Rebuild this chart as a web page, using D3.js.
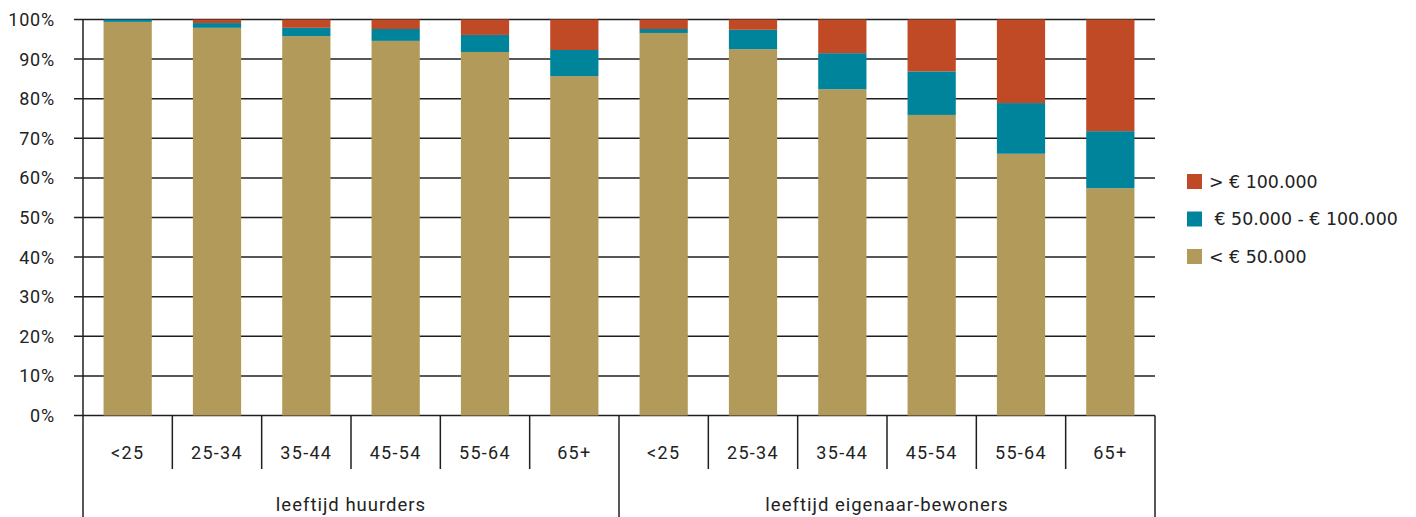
<!DOCTYPE html>
<html>
<head>
<meta charset="utf-8">
<script src="https://cdn.jsdelivr.net/npm/d3@7"></script>
<style>
  html, body { margin: 0; padding: 0; background: #fff; }
  svg { display: block; }
</style>
</head>
<body>
<svg id="chart" width="1416" height="517"></svg>
<script>
// Age brackets, repeated for each tenure group
const ageGroups = ["<25", "25-34", "35-44", "45-54", "55-64", "65+"];
const tenures = ["leeftijd huurders", "leeftijd eigenaar-bewoners"];

// Share of households (%) per wealth class, renters first then owner-occupiers
const below50k   = [99.4, 97.9, 95.8, 94.6, 91.8, 85.7, 96.6, 92.5, 82.4, 75.9, 66.1, 57.4];
const mid50to100k = [0.6, 1.2, 2.1, 3.0, 4.3, 6.6, 1.0, 4.9, 9.1, 11.0, 12.8, 14.4];
const above100k  = [0.0, 0.9, 2.1, 2.4, 3.9, 7.7, 2.4, 2.6, 8.5, 13.1, 21.1, 28.2];

const seriesKeys = ["low", "mid", "high"];
const seriesLabels = ["< € 50.000", " € 50.000 - € 100.000", "> € 100.000"];
const seriesColors = ["#B29A5B", "#00849C", "#C04A26"];

const yTicks = [0, 10, 20, 30, 40, 50, 60, 70, 80, 90, 100];

// Rows for the stack
const rows = [];
tenures.forEach((t, ti) => {
  ageGroups.forEach((a, ai) => {
    const i = ti * ageGroups.length + ai;
    rows.push({ id: ti + "|" + a, age: a, tenure: t, low: below50k[i], mid: mid50to100k[i], high: above100k[i] });
  });
});

const svg = d3.select("#chart");
const plotLeft = 83, plotRight = 1155, plotTop = 19.5, plotBase = 415.5;

const x = d3.scaleBand()
  .domain(rows.map(d => d.id))
  .range([plotLeft, plotRight])
  .paddingInner(0.46)
  .paddingOuter(0.23);

const y = d3.scaleLinear().domain([0, 100]).range([plotBase, plotTop]);

const axisFont = "Roboto, 'DejaVu Sans', sans-serif";

// Horizontal gridlines with left ticks
const grid = svg.append("g");
grid.selectAll("line")
  .data(yTicks)
  .join("line")
  .attr("x1", plotLeft - 9)
  .attr("x2", plotRight)
  .attr("y1", d => y(d))
  .attr("y2", d => y(d))
  .attr("stroke", "#1f1f1f")
  .attr("stroke-width", 1.5);

grid.selectAll("text")
  .data(yTicks)
  .join("text")
  .attr("x", 55)
  .attr("y", d => y(d))
  .attr("dy", "0.36em")
  .attr("text-anchor", "end")
  .attr("font-family", axisFont)
  .attr("font-size", 18)
  .attr("letter-spacing", 0.8)
  .attr("fill", "#222")
  .text(d => d + "%");

// Stacked bars
const stack = d3.stack().keys(seriesKeys)(rows);
svg.append("g")
  .selectAll("g")
  .data(stack)
  .join("g")
  .attr("fill", (d, i) => seriesColors[i])
  .selectAll("rect")
  .data(d => d)
  .join("rect")
  .attr("x", d => x(d.data.id))
  .attr("width", x.bandwidth())
  .attr("y", d => y(d[1]))
  .attr("height", d => y(d[0]) - y(d[1]));

// Vertical axis line
svg.append("line")
  .attr("x1", plotLeft).attr("x2", plotLeft)
  .attr("y1", plotTop).attr("y2", 517)
  .attr("stroke", "#1f1f1f").attr("stroke-width", 1.5);

// Category dividers below the axis
const step = x.step();
const catAxis = svg.append("g");
d3.range(1, rows.length + 1).forEach(i => {
  const xx = plotLeft + i * step;
  const isGroupEdge = i % ageGroups.length === 0;
  catAxis.append("line")
    .attr("x1", xx).attr("x2", xx)
    .attr("y1", plotBase).attr("y2", isGroupEdge ? 517 : 469)
    .attr("stroke", "#1f1f1f").attr("stroke-width", 1.5);
});

catAxis.selectAll("text.cat")
  .data(rows)
  .join("text")
  .attr("class", "cat")
  .attr("x", d => x(d.id) + x.bandwidth() / 2)
  .attr("y", 453)
  .attr("dy", "0.36em")
  .attr("text-anchor", "middle")
  .attr("font-family", axisFont)
  .attr("font-size", 18)
  .attr("letter-spacing", 1.3)
  .attr("fill", "#222")
  .text(d => d.age);

catAxis.selectAll("text.grp")
  .data(tenures)
  .join("text")
  .attr("class", "grp")
  .attr("x", (d, i) => plotLeft + (i + 0.5) * ageGroups.length * step)
  .attr("y", 504)
  .attr("dy", "0.36em")
  .attr("text-anchor", "middle")
  .attr("font-family", axisFont)
  .attr("font-size", 18.5)
  .attr("letter-spacing", 1)
  .attr("fill", "#222")
  .text(d => d);

// Legend, highest class on top
const legendOrder = [2, 1, 0];
const legend = svg.append("g").attr("transform", "translate(1187,174)");
legendOrder.forEach((si, k) => {
  const g = legend.append("g").attr("transform", `translate(0,${k * 37.5})`);
  g.append("rect").attr("width", 15).attr("height", 15).attr("fill", seriesColors[si]);
  g.append("text")
    .attr("x", 22)
    .attr("y", 7.5)
    .attr("dy", "0.36em")
    .attr("font-family", "'DejaVu Sans', sans-serif")
    .attr("font-size", 17.4)
    .attr("fill", "#222")
    .attr("xml:space", "preserve")
    .style("white-space", "pre")
    .text(seriesLabels[si]);
});
</script>
</body>
</html>
